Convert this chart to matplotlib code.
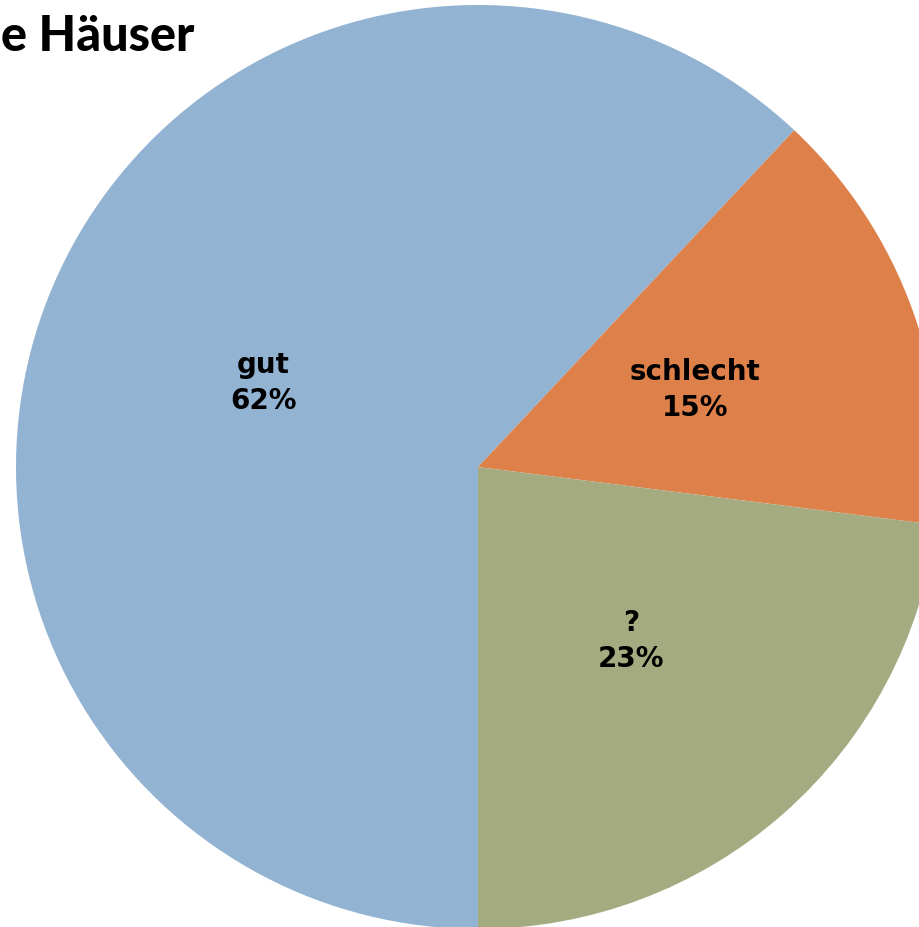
import numpy as np
import matplotlib
matplotlib.use("Agg")
import matplotlib.pyplot as plt

plt.rcParams["font.family"] = ["DejaVu Sans"]

labels = ["gut", "schlecht", "?"]
shares = [62, 15, 23]
colors = ["#93B3D2", "#DE804A", "#A5AB80"]
title = "e Häuser"

W, H = 920, 928
fig = plt.figure(figsize=(W / 100, H / 100), dpi=100)
ax = fig.add_axes([0, 0, 1, 1])

cx, cy, r = 478, -468, 462
wedges, _ = ax.pie(shares, colors=colors, startangle=-90, counterclock=False,
                   center=(cx, cy), radius=r, frame=True,
                   wedgeprops={"linewidth": 0})
ax.set_xlim(0, W)
ax.set_ylim(-H, 0)
ax.set_aspect("equal")
ax.axis("off")

for w, name, v in zip(wedges, labels, shares):
    mid = np.deg2rad((w.theta1 + w.theta2) / 2)
    x = cx + 0.5 * r * np.cos(mid)
    y = cy + 0.5 * r * np.sin(mid)
    ax.text(x, y, f"{name}\n{v}%", ha="center", va="center", fontsize=20,
            fontweight="bold", linespacing=1.35, color="black")

fig.text(0.001, 0.961, title, ha="left", va="center", fontsize=35,
         fontweight="black", family=["Lato", "DejaVu Sans"], color="black")

fig.savefig("out.png", dpi=100)
